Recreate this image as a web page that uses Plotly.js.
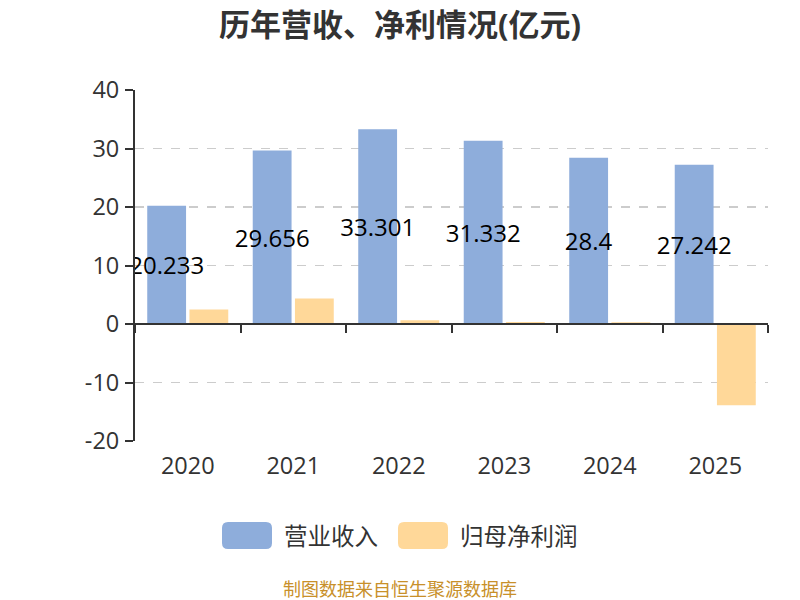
<!DOCTYPE html>
<html><head><meta charset="utf-8">
<script src="https://cdn.plot.ly/plotly-3.0.1.min.js"></script>
<style>body{margin:0}#c{width:800px;height:600px}</style>
</head><body><div id="c"></div>
<script>
const years = ['2020','2021','2022','2023','2024','2025'];
const revenue = [20.233, 29.656, 33.301, 31.332, 28.4, 27.242];
const profit = [2.48, 4.38, 0.64, 0.35, 0.3, -13.9];
const revenueLabels = ['20.233','29.656','33.301','31.332','28.4','27.242'];
const yTicks = [-20,-10,0,10,20,30,40];
const yTickLabels = ['-20','-10','0','10','20','30','40'];
const seriesNames = ['营业收入','归母净利润'];
const seriesColors = ['#8eaddb','#ffd899'];

const FONT = '"Open Sans", "Noto Sans CJK SC", sans-serif';
const M = {l:135, r:32, t:90, b:159};
const W = 800, H = 600;
const pw = W - M.l - M.r, ph = H - M.t - M.b;
const px2x = p => (p - M.l) / pw;
const py2y = p => (H - M.b - p) / ph;

const traces = [
  {type:'bar', name:seriesNames[0], x:years, y:revenue, marker:{color:seriesColors[0]},
   text:revenueLabels, textposition:'inside', insidetextanchor:'middle', constraintext:'none', textangle:0,
   textfont:{color:'#000', size:24, family:FONT}, hoverinfo:'none', showlegend:false},
  {type:'bar', name:seriesNames[1], x:years, y:profit, marker:{color:seriesColors[1]}, hoverinfo:'none', showlegend:false}
];

// custom legend (large rounded swatches)
function roundRect(x0, y0, x1, y1, r) {
  const X = px2x, Y = py2y;
  return `M${X(x0+r)},${Y(y0)} L${X(x1-r)},${Y(y0)} Q${X(x1)},${Y(y0)} ${X(x1)},${Y(y0+r)} ` +
         `L${X(x1)},${Y(y1-r)} Q${X(x1)},${Y(y1)} ${X(x1-r)},${Y(y1)} L${X(x0+r)},${Y(y1)} ` +
         `Q${X(x0)},${Y(y1)} ${X(x0)},${Y(y1-r)} L${X(x0)},${Y(y0+r)} Q${X(x0)},${Y(y0)} ${X(x0+r)},${Y(y0)} Z`;
}
const legendSwatchX = [222, 398];
const legendTextX = [282, 458];
const legendY0 = 522, legendY1 = 549;
const shapes = [], annotations = [];
for (let i = 0; i < seriesNames.length; i++) {
  shapes.push({type:'path', xref:'paper', yref:'paper', path:roundRect(legendSwatchX[i], legendY0, legendSwatchX[i]+50, legendY1, 6),
               fillcolor:seriesColors[i], line:{width:0}});
  annotations.push({text:seriesNames[i], xref:'paper', yref:'paper', x:px2x(legendTextX[i]), y:py2y((legendY0+legendY1)/2),
                    xanchor:'left', yanchor:'middle', showarrow:false, font:{size:23.5, color:'#333', family:FONT}});
}
annotations.push({text:'制图数据来自恒生聚源数据库', xref:'paper', yref:'paper', x:px2x(400), y:py2y(589),
                  xanchor:'center', yanchor:'middle', showarrow:false, font:{size:18, color:'#c8902a', family:FONT}});

const layout = {
  width:W, height:H, margin:M,
  paper_bgcolor:'#fff', plot_bgcolor:'#fff',
  font:{family:FONT, color:'#333', size:22},
  title:{text:'<b>历年营收、净利情况(亿元)</b>', x:0.5, xanchor:'center', xref:'container',
         y:1-25/H, yanchor:'middle', yref:'container', font:{size:31, color:'#333', family:FONT}},
  barmode:'group', bargap:0.2, bargroupgap:0.08,
  xaxis:{type:'category', anchor:'free', position:1/3, showline:true, linecolor:'#333', linewidth:2,
         ticks:'outside', tickson:'boundaries', ticklen:8, tickwidth:2, tickcolor:'#333',
         showgrid:false, zeroline:false, ticklabelstandoff:121,
         tickfont:{size:23.5, color:'#333', family:FONT}},
  yaxis:{range:[-20,40], tickvals:yTicks, ticktext:yTickLabels, showline:true, linecolor:'#333', linewidth:2,
         ticks:'outside', ticklen:8, tickwidth:2, tickcolor:'#333',
         showgrid:true, gridcolor:'#cccccc', griddash:'dash', gridwidth:1.5,
         zeroline:false, tickfont:{size:23.5, color:'#333', family:FONT}, ticklabelstandoff:1},
  showlegend:false,
  shapes:shapes, annotations:annotations
};
Plotly.newPlot('c', traces, layout, {displayModeBar:false, staticPlot:true});
</script></body></html>
